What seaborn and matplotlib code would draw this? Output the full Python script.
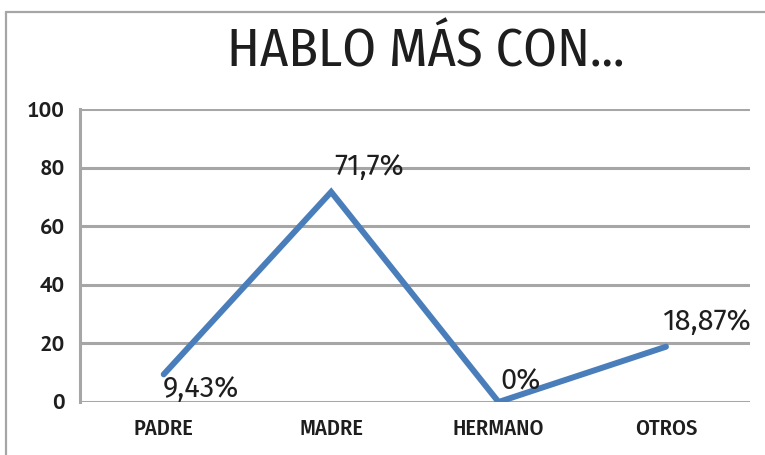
import matplotlib
matplotlib.use("Agg")
import matplotlib.pyplot as plt
import seaborn as sns
import pandas as pd
from matplotlib.lines import Line2D

categories = ["PADRE", "MADRE", "HERMANO", "OTROS"]
values = [9.43, 71.7, 0, 18.87]
labels = ["9,43%", "71,7%", "0%", "18,87%"]
yticks = [0, 20, 40, 60, 80, 100]

df = pd.DataFrame({"cat": categories, "val": values})

sns.set_theme(style="white")
plt.rcParams["font.family"] = ["PT Sans", "DejaVu Sans"]

fig = plt.figure(figsize=(7.65, 4.55), dpi=100)
ax = fig.add_axes([0.1046, 0.1165, 0.980 - 0.1046, 0.7604 - 0.1165])

grid_c = "#a6a6a6"
txt_c = "#1e1e1e"
sns.lineplot(data=df, x="cat", y="val", ax=ax, color="#4a7ebb", linewidth=4.3,
             solid_capstyle="round", solid_joinstyle="miter", sort=False, zorder=3)

ax.set_ylim(0, 100)
ax.set_xlim(-0.5, 3.5)
ax.set_yticks(yticks)
ax.set_yticklabels([str(t) for t in yticks], fontsize=16, fontweight="bold", color=txt_c,
                   family=["PT Sans", "DejaVu Sans"])
ax.set_xticks(range(len(categories)))
ax.set_xticklabels(categories, fontsize=16, color=txt_c, fontweight="medium",
                   family=["Fira Sans Condensed", "DejaVu Sans"])
ax.tick_params(axis="y", length=0, pad=11)
ax.tick_params(axis="x", length=0, pad=12)
ax.set_xlabel("")
ax.set_ylabel("")
ax.yaxis.grid(True, color=grid_c, linewidth=2.2)
ax.set_axisbelow(True)
for s in ["top", "right", "bottom"]:
    ax.spines[s].set_visible(False)
ax.spines["left"].set_color(grid_c)
ax.spines["left"].set_linewidth(2.2)

offsets = [(37, -14), (38, 25), (22, 21), (41, 25)]
for i, (v, lab) in enumerate(zip(values, labels)):
    ax.annotate(lab, (i, v), xytext=offsets[i], textcoords="offset pixels",
                ha="center", va="center", fontsize=21, color=txt_c, zorder=4,
                family=["Fira Sans", "DejaVu Sans"])

fig.text(0.557, 0.886, "HABLO MÁS CON...", ha="center", va="center", fontsize=39,
         color=txt_c, family=["Fira Sans Condensed", "DejaVu Sans"])

# figure border
fig.add_artist(Line2D([6 / 765, 6 / 765], [0, 1 - 12 / 455], color=grid_c, linewidth=1.6,
                      transform=fig.transFigure))
fig.add_artist(Line2D([6 / 765, 1.0], [1 - 12 / 455, 1 - 12 / 455], color=grid_c, linewidth=1.6,
                      transform=fig.transFigure))

fig.savefig("out.png", dpi=100)
